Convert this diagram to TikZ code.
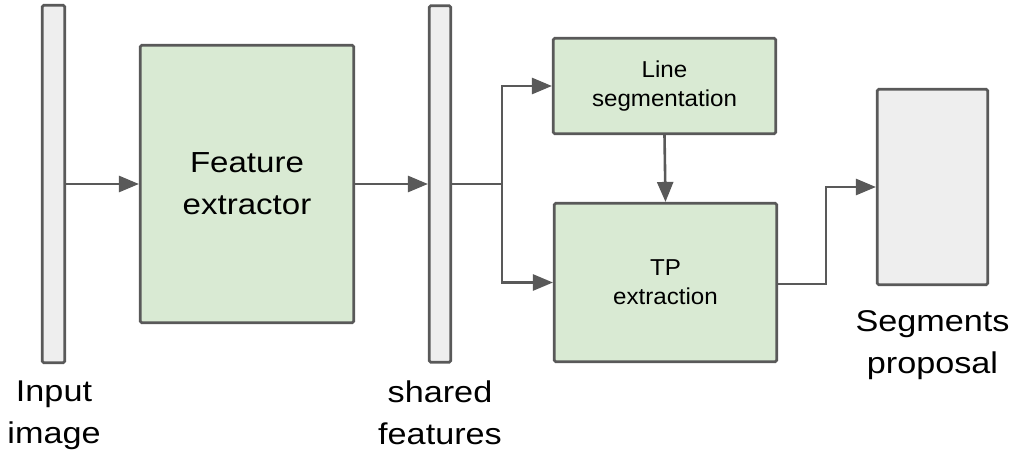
\documentclass[tikz,border=0pt]{standalone}
\usepackage{fontspec}
\setmainfont{Liberation Sans}
\newfontfamily\bigwide[FakeStretch=1.14]{Liberation Sans}
\newfontfamily\smallwide[FakeStretch=1.05]{Liberation Sans}
\usetikzlibrary{arrows.meta}
\definecolor{edgegray}{HTML}{595959}
\definecolor{boxgreen}{HTML}{D9EAD3}
\definecolor{bargray}{HTML}{EEEEEE}
\begin{document}
\begin{tikzpicture}[x=1pt,y=-1pt,
  bar/.style={draw=edgegray, fill=bargray, line width=2.6pt, rounded corners=1.5pt, inner sep=0pt},
  greenbox/.style={draw=edgegray, fill=boxgreen, line width=2.6pt, rounded corners=1.5pt, inner sep=0pt, align=center, text=black},
  lbl/.style={inner sep=0pt, align=center, anchor=north, font=\bigwide\fontsize{30}{42}\selectfont},
  arr/.style={draw=edgegray, line width=2.6pt, -{Triangle[length=20pt,width=16pt]}},
  conn/.style={draw=edgegray, line width=2.6pt}
]
\useasboundingbox (0,0) rectangle (1014,452);
% bars
\node[bar, minimum width=22.5pt, minimum height=357.5pt] (in) at (53.5,184) {};
\node[bar, minimum width=21.5pt, minimum height=356.5pt] (sh) at (440,184) {};
\node[bar, minimum width=110.5pt, minimum height=195.5pt] (sg) at (932.5,187) {};
% green boxes
\node[greenbox, minimum width=213.5pt, minimum height=277.5pt, font=\bigwide\fontsize{29}{42}\selectfont] (fe) at (247,184) {Feature\\extractor};
\node[greenbox, minimum width=222.5pt, minimum height=95.5pt, font=\smallwide\fontsize{23}{29}\selectfont] (ls) at (664.5,86) {Line\\segmentation};
\node[greenbox, minimum width=222.5pt, minimum height=158.5pt, font=\smallwide\fontsize{23}{29}\selectfont] (tp) at (665.5,282.5) {TP\\extraction};
% labels
\node[lbl] (inl) at (54,381) {Input\\image};
\node[lbl] (shl) at (440,381) {shared\\features};
\node[lbl] (sgl) at (932.5,310) {Segments\\proposal};
% connectors
\coordinate (br) at (502,184);
\coordinate (br2) at (826,284);
\draw[arr] (in.east) -- (fe.west);
\draw[arr] (fe.east) -- (sh.west);
\draw[conn] (sh.east) -- (br);
\draw[arr] (br) |- (ls.west);
\draw[arr] (br) |- (tp.west);
\draw[arr] (ls.south) -- (tp.north);
\draw[arr] (tp.east |- br2) -- (br2) |- (sg.west);
\end{tikzpicture}
\end{document}
